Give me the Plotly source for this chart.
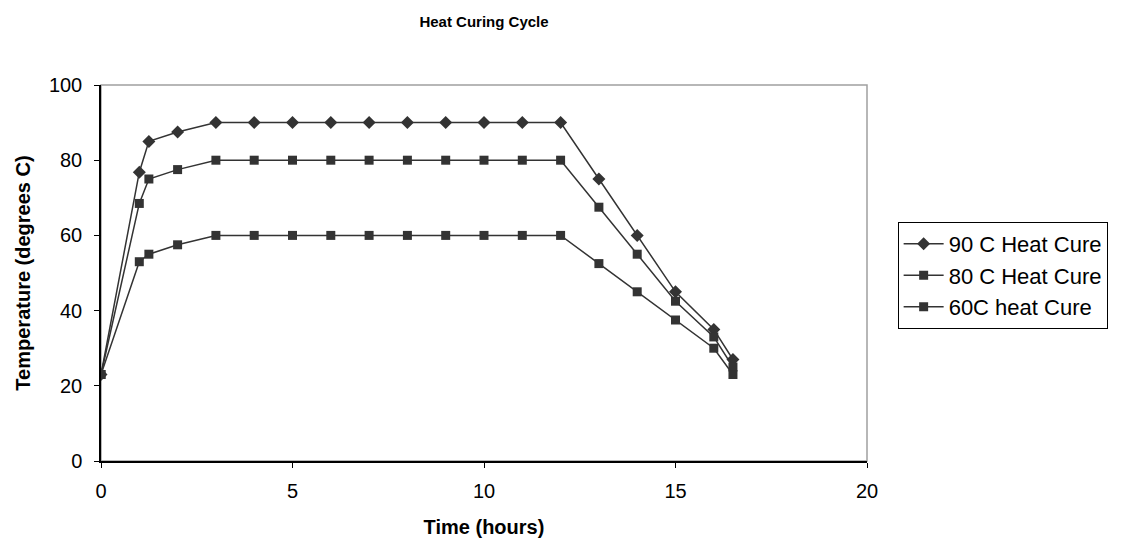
import plotly.graph_objects as go

time_h = [0, 1, 1.25, 2, 3, 4, 5, 6, 7, 8, 9, 10, 11, 12, 13, 14, 15, 16, 16.5]
cure_90 = [23, 76.8, 85, 87.5, 90, 90, 90, 90, 90, 90, 90, 90, 90, 90, 75, 60, 45, 35, 27]
cure_80 = [23, 68.5, 75, 77.5, 80, 80, 80, 80, 80, 80, 80, 80, 80, 80, 67.5, 55, 42.5, 33, 25]
cure_60 = [23, 53, 55, 57.5, 60, 60, 60, 60, 60, 60, 60, 60, 60, 60, 52.5, 45, 37.5, 30, 23]

names = ["90 C Heat Cure", "80 C Heat Cure", "60C heat Cure"]
symbols = ["diamond", "square", "square"]

FONT = "Liberation Sans, Arial, sans-serif"
fig = go.Figure()
for i, (name, ys, sym) in enumerate(zip(names, [cure_90, cure_80, cure_60], symbols)):
    fig.add_trace(go.Scatter(
        x=time_h, y=ys, name=name, mode="lines+markers",
        line=dict(color="#333333", width=1.5),
        marker=dict(symbol=sym, size=10 if sym == "diamond" else 9, color="#333333"),
    ))

fig.add_shape(type="rect", xref="paper", yref="paper", x0=0, y0=0, x1=1, y1=1,
              line=dict(color="#a0a0a0", width=1.5), layer="below")

fig.update_layout(
    width=1122, height=548,
    margin=dict(l=101, r=255, t=85, b=87),
    paper_bgcolor="white", plot_bgcolor="white",
    font=dict(family=FONT, size=20, color="black"),
    title=dict(text="<b>Heat Curing Cycle</b>", x=484/1122, xanchor="center",
               y=1 - 22/548, yanchor="middle", font=dict(size=15)),
    showlegend=True,
    legend=dict(x=1.04, xanchor="left", y=0.636, yanchor="top",
                bordercolor="black", borderwidth=1, bgcolor="white",
                font=dict(size=22), tracegroupgap=0, itemwidth=40),
    xaxis=dict(range=[0, 20], tickvals=[0, 5, 10, 15, 20], showgrid=False, zeroline=False,
               showline=True, linecolor="black", linewidth=1.5, ticks="outside",
               ticklen=5, tickcolor="black", ticklabelstandoff=6,
               title=dict(text="<b>Time (hours)</b>", font=dict(size=20), standoff=19)),
    yaxis=dict(range=[0, 100], tickvals=[0, 20, 40, 60, 80, 100], showgrid=False, zeroline=False,
               showline=True, linecolor="black", linewidth=1.5, ticks="outside",
               ticklen=5, tickcolor="black", ticklabelstandoff=8,
               title=dict(text="<b>Temperature (degrees C)</b>", font=dict(size=20), standoff=13)),
)

fig.write_html("out.html")
